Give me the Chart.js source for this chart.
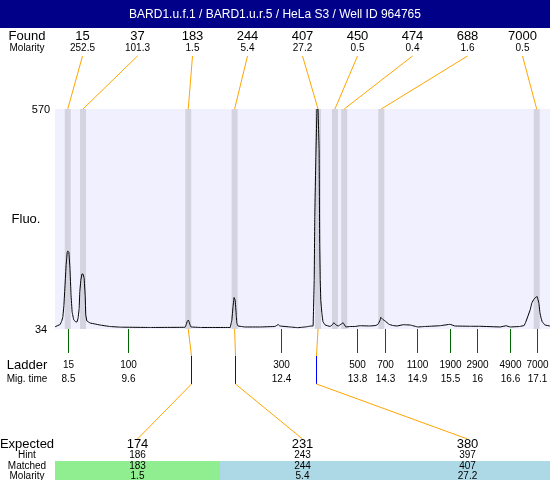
<!DOCTYPE html>
<html>
<head>
<meta charset="utf-8">
<script src="https://cdn.jsdelivr.net/npm/chart.js@4.4.1/dist/chart.umd.min.js"></script>
<style>
  html, body { margin: 0; padding: 0; background: #fff; }
  canvas { display: block; }
</style>
</head>
<body>
<canvas id="gelChart" width="550" height="480"></canvas>
<script>
const ctx = document.getElementById('gelChart');

//Title
var title = 'BARD1.u.f.1 / BARD1.u.r.5 / HeLa S3 / Well ID 964765';

//Found peaks (size, molarity, migration time)
var foundSizes = ['15', '37', '183', '244', '407', '450', '474', '688', '7000'];
var foundMolarity = ['252.5', '101.3', '1.5', '5.4', '27.2', '0.5', '0.4', '1.6', '0.5'];
var foundTime = [8.49, 8.77, 10.70, 11.55, 13.08, 13.39, 13.56, 14.24, 17.09];

//Ladder
var ladderSizes = ['15', '100', '300', '500', '700', '1100', '1900', '2900', '4900', '7000'];
var ladderTime = [8.5, 9.6, 12.4, 13.8, 14.3, 14.9, 15.5, 16, 16.6, 17.1];

//Expected products
var expectedSizes = ['174', '231', '380'];
var hintSizes = ['186', '243', '397'];
var matchedSizes = ['183', '244', '407'];
var matchedMolarity = ['1.5', '5.4', '27.2'];
var matchedPeak = [2, 3, 4];
var hintTime = [10.75, 11.55, 13.04];

//Fluorescence trace
var traceTime = [8.26, 8.35, 8.38, 8.40, 8.42, 8.44, 8.46, 8.48, 8.49, 8.51, 8.53, 8.55, 8.57, 8.60, 8.64, 8.66,
    8.68, 8.70, 8.71, 8.73, 8.75, 8.77, 8.79, 8.81, 8.82, 8.84, 8.90, 8.99, 9.08, 9.26, 9.45, 10.00,
    10.64, 10.66, 10.68, 10.70, 10.71, 10.73, 10.75, 10.92, 11.47, 11.50, 11.52, 11.54, 11.56, 11.58, 11.59, 11.61,
    11.74, 12.02, 12.29, 12.35, 12.38, 12.57, 12.71, 12.84, 12.90, 12.95, 12.99, 13.01, 13.02, 13.04, 13.06, 13.08,
    13.10, 13.11, 13.12, 13.13, 13.15, 13.17, 13.21, 13.30, 13.34, 13.37, 13.41, 13.45, 13.48, 13.54, 13.59, 13.67,
    13.76, 13.85, 14.03, 14.14, 14.18, 14.22, 14.23, 14.27, 14.31, 14.38, 14.45, 14.53, 14.64, 14.77, 14.91, 15.04,
    15.13, 15.32, 15.50, 15.59, 15.87, 16.05, 16.42, 16.53, 16.60, 16.78, 16.86, 16.89, 16.93, 16.97, 17.00, 17.04,
    17.08, 17.10, 17.11, 17.13, 17.15, 17.17, 17.19, 17.24, 17.33];
var traceFluo = [39.6, 45.0, 53.5, 63.2, 92.5, 141.2, 189.9, 221.6, 224.0, 221.6, 182.6, 116.8, 75.4, 55.9, 51.1, 51.1,
    60.8, 85.2, 124.1, 153.4, 168.0, 168.0, 158.3, 114.4, 68.1, 53.5, 48.6, 46.2, 43.7, 40.1, 38.5, 37.7,
    38.1, 43.7, 52.3, 55.9, 53.5, 45.0, 38.9, 37.7, 37.7, 55.9, 87.6, 110.7, 104.7, 68.1, 48.6, 41.3,
    38.9, 38.9, 40.1, 45.0, 41.3, 38.9, 37.2, 38.9, 40.1, 41.3, 41.3, 153.4, 307.6, 453.8, 570, 570,
    470.1, 243.5, 153.4, 104.7, 73.0, 51.8, 43.7, 40.1, 43.7, 49.3, 43.7, 41.3, 43.7, 49.3, 38.9, 40.1,
    40.1, 42.0, 41.3, 42.5, 45.5, 55.9, 62.5, 57.1, 53.5, 45.5, 42.5, 41.3, 44.5, 43.7, 38.9, 40.1,
    40.6, 42.0, 45.5, 41.3, 40.6, 40.6, 38.9, 42.0, 38.9, 40.1, 42.5, 51.1, 65.7, 80.3, 97.3, 107.1,
    112.0, 112.7, 107.1, 97.3, 73.0, 60.8, 51.8, 43.7, 41.3];

var tracePoints = traceTime.map((t, i) => ({x: t, y: traceFluo[i]}));

var FONT = "'Liberation Sans', Arial, sans-serif";

//Everything around the trace: header, peak bands, labels and connectors
const electropherogram = {
    id: 'electropherogram',
    beforeDraw(chart) {
        const c = chart.ctx, a = chart.chartArea, x = chart.scales.x;
        c.save();
        c.fillStyle = '#fff';
        c.fillRect(0, 0, chart.width, chart.height);
        c.fillStyle = '#000088';
        c.fillRect(0, 0, chart.width, 28);
        c.fillStyle = '#F0F0FF';
        c.fillRect(a.left, a.top, a.right - a.left, a.bottom - a.top);
        c.fillStyle = '#D4D4E1';
        foundTime.forEach(t => {
            const l = x.getPixelForValue(t - 0.055), r = x.getPixelForValue(t + 0.055);
            c.fillRect(l, a.top, r - l, a.bottom - a.top);
        });
        c.restore();
    },
    afterDraw(chart) {
        const c = chart.ctx, a = chart.chartArea, x = chart.scales.x, y = chart.scales.y;
        function text(s, px, py, size, color) {
            c.font = size + 'px ' + FONT;
            c.fillStyle = color || '#000';
            c.fillText(s, px, py);
        }
        function line(x1, y1, x2, y2, color) {
            c.strokeStyle = color;
            c.lineWidth = 1;
            c.beginPath();
            c.moveTo(x1, y1);
            c.lineTo(x2, y2);
            c.stroke();
        }
        c.save();
        c.textAlign = 'center';
        c.textBaseline = 'middle';

        text(title, chart.width / 2, 15, 12, '#fff');

        //found row
        const colW = (a.right - a.left) / foundSizes.length;
        text('Found', 27, 36, 13);
        text('Molarity', 27, 48, 10);
        foundSizes.forEach((s, i) => {
            const cx = a.left + colW * (i + 0.5);
            text(s, cx, 36, 13);
            text(foundMolarity[i], cx, 48, 10);
            line(cx, 56, x.getPixelForValue(foundTime[i]), a.top, '#FFA500');
        });

        //y axis
        text('570', 41, y.getPixelForValue(570) + 1, 11);
        text('34', 41, y.getPixelForValue(34) + 1, 11);
        text('Fluo.', 26, (a.top + a.bottom) / 2, 13);

        //ladder
        text('Ladder', 27, 365, 13);
        text('Mig. time', 27, 379, 10);
        ladderTime.forEach((t, i) => {
            const px = Math.round(x.getPixelForValue(t)) + 0.5;
            line(px, a.bottom, px, a.bottom + 24, '#006400');
            text(ladderSizes[i], px, 365, 10);
            text(String(t), px, 379, 10);
        });

        //expected products
        const colE = (a.right - a.left) / expectedSizes.length;
        c.fillStyle = '#90EE90';
        c.fillRect(a.left, 461, colE, chart.height - 461);
        c.fillStyle = '#ADD8E6';
        c.fillRect(a.left + colE, 461, colE * 2, chart.height - 461);
        text('Expected', 27, 444, 13);
        text('Hint', 27, 455.5, 10);
        text('Matched', 27, 466, 10);
        text('Molarity', 27, 476, 10);
        expectedSizes.forEach((s, i) => {
            const cx = a.left + colE * (i + 0.5);
            const mx = x.getPixelForValue(foundTime[matchedPeak[i]]);
            const hx = Math.round(x.getPixelForValue(hintTime[i])) + 0.5;
            line(mx, a.bottom, hx, 356, '#FFA500');
            line(hx, 356, hx, 384, '#0000FF');
            line(hx, 384, cx, 439, '#FFA500');
            text(s, cx, 444, 13);
            text(hintSizes[i], cx, 455.5, 10);
            text(matchedSizes[i], cx, 466, 10);
            text(matchedMolarity[i], cx, 476, 10);
        });
        c.restore();
    }
};

//Create chart
new Chart(ctx, {
    type: 'line',
    data: {
        datasets: [{
            data: tracePoints,
            borderColor: '#000',
            borderWidth: 1,
            pointRadius: 0,
            tension: 0.001 // tiny tension keeps the straight look without the fast-path pixel binning
        }]
    },
    options: {
        responsive: false,
        animation: false,
        devicePixelRatio: 1,
        layout: {
            padding: {left: 55, top: 109, right: 0, bottom: 151}
        },
        scales: {
            x: {type: 'linear', min: 8.256, max: 17.334, display: false},
            y: {min: 34, max: 570, display: false}
        },
        plugins: {
            legend: {display: false},
            tooltip: {enabled: false}
        }
    },
    plugins: [electropherogram]
});
</script>
</body>
</html>
